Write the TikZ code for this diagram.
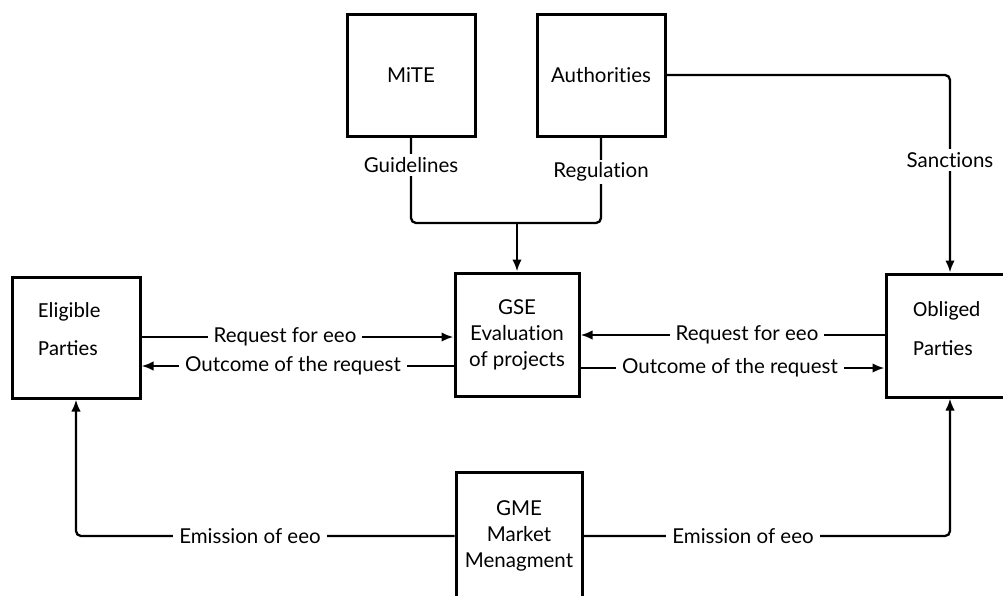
\documentclass[tikz,border=0pt]{standalone}
\usepackage{fontspec}
\setmainfont{Lato}[Ligatures={NoCommon}]
\newfontfamily\calfont{Carlito}
\usetikzlibrary{arrows.meta}
\begin{document}
\begin{tikzpicture}[x=1pt,y=-1pt,
  box/.style={draw,line width=3pt,inner sep=0pt,align=center,font=\fontsize{20.5}{26}\selectfont},
  conn/.style={line width=2.3pt},
  arr/.style={conn,-{Latex[length=12pt,width=9.5pt]}},
  lbl/.style={fill=white,inner xsep=6pt,inner ysep=3pt,font=\fontsize{20.5}{24}\selectfont},
  ptxt/.style={anchor=base west,inner sep=0pt,font=\calfont\fontsize{21.5}{21}\selectfont}]
\useasboundingbox (0,0) rectangle (1003,595);
\clip (0,0) rectangle (1003,595);
\node[box,minimum width=128pt,minimum height=122pt] (mite) at (411,75) {MiTE};
\node[box,minimum width=128pt,minimum height=122pt] (auth) at (601,75) {Authorities};
\node[box,minimum width=124pt,minimum height=123pt] (gse) at (517,334.5) {GSE\\Evaluation\\of projects};
\node[box,minimum width=128pt,minimum height=121pt] (elig) at (76,337.5) {};
\node[box,minimum width=128pt,minimum height=123pt] (obl) at (950,335.5) {};
\node[box,minimum width=126pt,minimum height=128pt] (gme) at (519,536) {GME\\Market\\Menagment};
\node[ptxt] (eligA) at (38,317) {Eligible};
\node[ptxt] (eligB) at (38,355) {Parties};
\node[ptxt] (oblA) at (913,316) {Obliged};
\node[ptxt] (oblB) at (913,355) {Parties};
% guidelines / regulation
\coordinate (j) at (517,223);
\draw[conn,rounded corners=5pt] (mite.south) |- (j) -| (auth.south);
\draw[arr] (j) -- (gse.north);
\node[lbl] (gl) at (411,165) {Guidelines};
\node[lbl] (rl) at (601,172) {Regulation};
% sanctions
\draw[arr,rounded corners=5pt] (auth.east) -| (obl.north);
\node[lbl] (sl) at (950,160) {Sanctions};
% requests
\draw[arr] (elig.east |- 0,337) -- (gse.west |- 0,337);
\node[lbl] (r1) at (285,337) {Request for eeo};
\draw[arr] (gse.west |- 0,366) -- (elig.east |- 0,366);
\node[lbl] (o1) at (293,366) {Outcome of the request};
\draw[arr] (obl.west |- 0,335) -- (gse.east |- 0,335);
\node[lbl] (r2) at (747,335) {Request for eeo};
\draw[arr] (gse.east |- 0,368) -- (obl.west |- 0,368);
\node[lbl] (o2) at (730,368) {Outcome of the request};
% emission
\draw[arr,rounded corners=5pt] (gme.west) -| (elig.south);
\node[lbl] (e1) at (250,536) {Emission of eeo};
\draw[arr,rounded corners=5pt] (gme.east) -| (obl.south);
\node[lbl] (e2) at (743,536) {Emission of eeo};
\end{tikzpicture}
\end{document}
